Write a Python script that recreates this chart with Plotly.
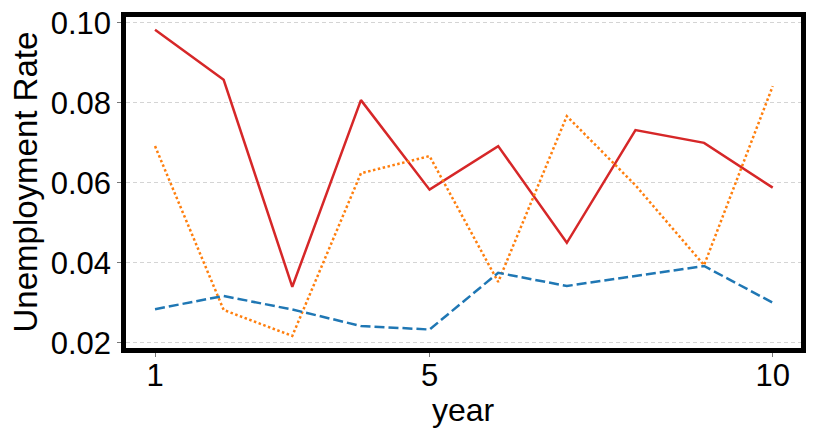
import plotly.graph_objects as go

years = [1, 2, 3, 4, 5, 6, 7, 8, 9, 10]
red_series = [0.0983, 0.0858, 0.0340, 0.0807, 0.0583, 0.0692, 0.0450, 0.0732, 0.0700, 0.0588]
orange_series = [0.0692, 0.0282, 0.0217, 0.0624, 0.0667, 0.0352, 0.0767, 0.0594, 0.0394, 0.0842]
blue_series = [0.0284, 0.0317, 0.0283, 0.0242, 0.0233, 0.0375, 0.0342, 0.0367, 0.0392, 0.0300]
y_ticks = [0.02, 0.04, 0.06, 0.08, 0.10]
y_tick_labels = ["0.02", "0.04", "0.06", "0.08", "0.10"]
x_ticks = [1, 5, 10]

FONT = "Liberation Sans, Arial, sans-serif"

fig = go.Figure()
fig.add_trace(go.Scatter(x=years, y=red_series, mode="lines",
                         line=dict(color="#d62728", width=2.5, dash="solid"), showlegend=False))
fig.add_trace(go.Scatter(x=years, y=orange_series, mode="lines",
                         line=dict(color="#ff7f0e", width=2.5, dash="2.5px,2.5px"), showlegend=False))
fig.add_trace(go.Scatter(x=years, y=blue_series, mode="lines",
                         line=dict(color="#1f77b4", width=2.5, dash="10px,4px"), showlegend=False))

fig.update_layout(
    width=806, height=433,
    margin=dict(l=118, r=13, t=9, b=93, pad=0),
    paper_bgcolor="white", plot_bgcolor="white",
    font=dict(family=FONT, color="black", size=31),
    annotations=[
        dict(text="year", xref="paper", yref="paper", x=0.5, y=0,
             xanchor="center", yanchor="middle", yshift=-62, showarrow=False,
             font=dict(size=32, family=FONT, color="black")),
        dict(text="Unemployment Rate", xref="paper", yref="paper", x=0, y=0.5,
             xanchor="center", yanchor="middle", xshift=-101, textangle=-90, showarrow=False,
             font=dict(size=33, family=FONT, color="black")),
    ],
)
fig.update_xaxes(
    automargin=False,
    range=[0.577, 10.412], tickmode="array", tickvals=x_ticks, ticktext=[str(v) for v in x_ticks],
    showgrid=False, zeroline=False,
    showline=True, mirror=True, linecolor="black", linewidth=4.5,
    ticks="outside", ticklen=4, tickwidth=1, tickcolor="#777",
    tickfont=dict(size=31, family=FONT), ticklabelstandoff=-8, ticklabeloverflow="allow",
)
fig.update_yaxes(
    automargin=False,
    range=[0.01868, 0.1015], tickmode="array", tickvals=y_ticks, ticktext=y_tick_labels,
    showgrid=True, gridcolor="#d4d4d4", gridwidth=1, griddash="4px,3px", zeroline=False,
    showline=True, mirror=True, linecolor="black", linewidth=4.5,
    ticks="outside", ticklen=4, tickwidth=1, tickcolor="#777",
    tickfont=dict(size=31, family=FONT), ticklabeloverflow="allow",
)

fig.write_html("out.html")
